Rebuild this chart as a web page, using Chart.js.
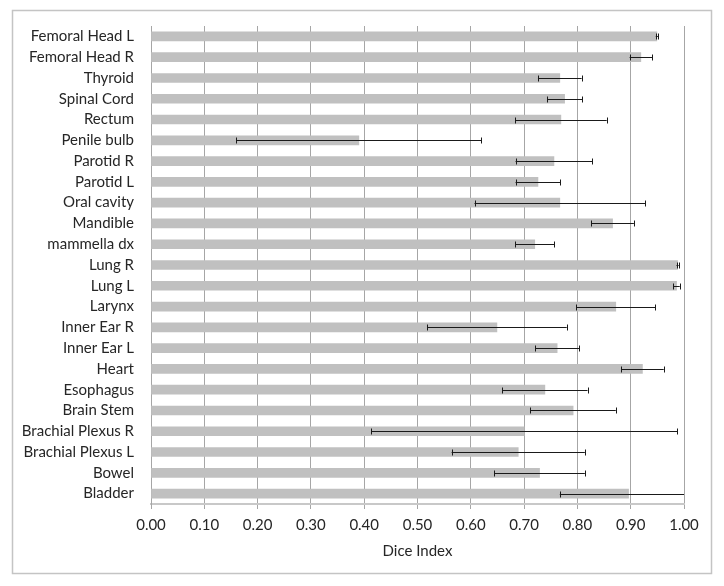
<!DOCTYPE html>
<html>
<head>
<meta charset="utf-8">
<script src="https://cdn.jsdelivr.net/npm/chart.js@4.4.1/dist/chart.umd.min.js"></script>
<style>
  html, body { margin: 0; padding: 0; background: #fff; }
  #wrap { position: relative; width: 724px; height: 586px; }
  canvas { display: block; }
</style>
</head>
<body>
<div id="wrap"><canvas id="c" width="724" height="586"></canvas></div>
<script>
const categories = [
  "Femoral Head L", "Femoral Head R", "Thyroid", "Spinal Cord", "Rectum",
  "Penile bulb", "Parotid R", "Parotid L", "Oral cavity", "Mandible",
  "mammella dx", "Lung R", "Lung L", "Larynx", "Inner Ear R", "Inner Ear L",
  "Heart", "Esophagus", "Brain Stem", "Brachial Plexus R", "Brachial Plexus L",
  "Bowel", "Bladder"
];
const diceMean = [
  0.949, 0.919, 0.767, 0.776, 0.769,
  0.390, 0.756, 0.726, 0.767, 0.866,
  0.720, 0.988, 0.986, 0.872, 0.649, 0.762,
  0.922, 0.739, 0.792, 0.700, 0.689,
  0.729, 0.896
];
const diceSD = [
  0.002, 0.021, 0.041, 0.033, 0.086,
  0.230, 0.072, 0.042, 0.160, 0.040,
  0.037, 0.002, 0.006, 0.074, 0.131, 0.041,
  0.040, 0.080, 0.080, 0.287, 0.125,
  0.085, 0.129
];
const xTicks = [0, 0.1, 0.2, 0.3, 0.4, 0.5, 0.6, 0.7, 0.8, 0.9, 1.0];

const FONT = "Lato, 'Open Sans', sans-serif";
const TEXT = "#262626";
const GRID = "#a6a6a6";

const errorBars = {
  id: "errorBars",
  afterDatasetsDraw(chart) {
    const meta = chart.getDatasetMeta(0);
    const xs = chart.scales.x;
    const ctx = chart.ctx;
    const maxV = xs.max;
    ctx.save();
    ctx.strokeStyle = "#1a1a1a";
    ctx.lineWidth = 1;
    meta.data.forEach((bar, i) => {
      const v = diceMean[i], e = diceSD[i];
      const lo = Math.max(xs.min, v - e);
      const hiRaw = v + e;
      const hi = Math.min(maxV, hiRaw);
      const x1 = xs.getPixelForValue(lo);
      const x2 = xs.getPixelForValue(hi);
      const y = Math.round(bar.y) + 0.5;
      ctx.beginPath();
      ctx.moveTo(x1, y); ctx.lineTo(x2, y);
      ctx.moveTo(Math.round(x1) + 0.5, y - 3); ctx.lineTo(Math.round(x1) + 0.5, y + 3);
      if (hiRaw <= maxV) {
        ctx.moveTo(Math.round(x2) + 0.5, y - 3); ctx.lineTo(Math.round(x2) + 0.5, y + 3);
      }
      ctx.stroke();
    });
    ctx.restore();
  }
};

const frame = {
  id: "frame",
  beforeDraw(chart) {
    const ctx = chart.ctx;
    ctx.save();
    ctx.fillStyle = "#fff";
    ctx.fillRect(0, 0, chart.width, chart.height);
    ctx.strokeStyle = "#c4c4c4";
    ctx.lineWidth = 1.5;
    ctx.strokeRect(12.5, 10.5, 699, 563);
    ctx.restore();
  }
};

new Chart(document.getElementById("c"), {
  type: "bar",
  data: {
    labels: categories,
    datasets: [{
      data: diceMean,
      backgroundColor: "#c0c0c0",
      borderWidth: 0,
      barThickness: 9
    }]
  },
  options: {
    indexAxis: "y",
    responsive: false,
    animation: false,
    devicePixelRatio: 1,
    layout: { padding: { left: 0, right: 40, top: 20, bottom: 26 } },
    plugins: {
      legend: { display: false },
      tooltip: { enabled: false }
    },
    scales: {
      x: {
        type: "linear",
        min: 0,
        max: 1,
        afterBuildTicks(scale) { scale.ticks = xTicks.map(v => ({ value: v })); },
        afterFit(scale) { scale.height = 56; },
        ticks: {
          callback: (v) => Number(v).toFixed(2),
          font: { family: FONT, size: 15 },
          color: TEXT,
          padding: 7,
          maxRotation: 0,
          autoSkip: false
        },
        grid: { color: GRID, lineWidth: 1, drawTicks: true, tickLength: 5 },
        border: { color: "#c8c8c8", width: 2 },
        title: {
          display: true,
          text: "Dice Index",
          font: { family: FONT, size: 15 },
          color: TEXT,
          padding: { top: 4, bottom: 0 }
        }
      },
      y: {
        afterFit(scale) { scale.width = 151; },
        ticks: {
          font: { family: FONT, size: 15 },
          color: TEXT,
          padding: 17,
          autoSkip: false
        },
        grid: { display: false, drawTicks: false },
        border: { color: GRID, width: 1 }
      }
    }
  },
  plugins: [frame, errorBars]
});
</script>
</body>
</html>
